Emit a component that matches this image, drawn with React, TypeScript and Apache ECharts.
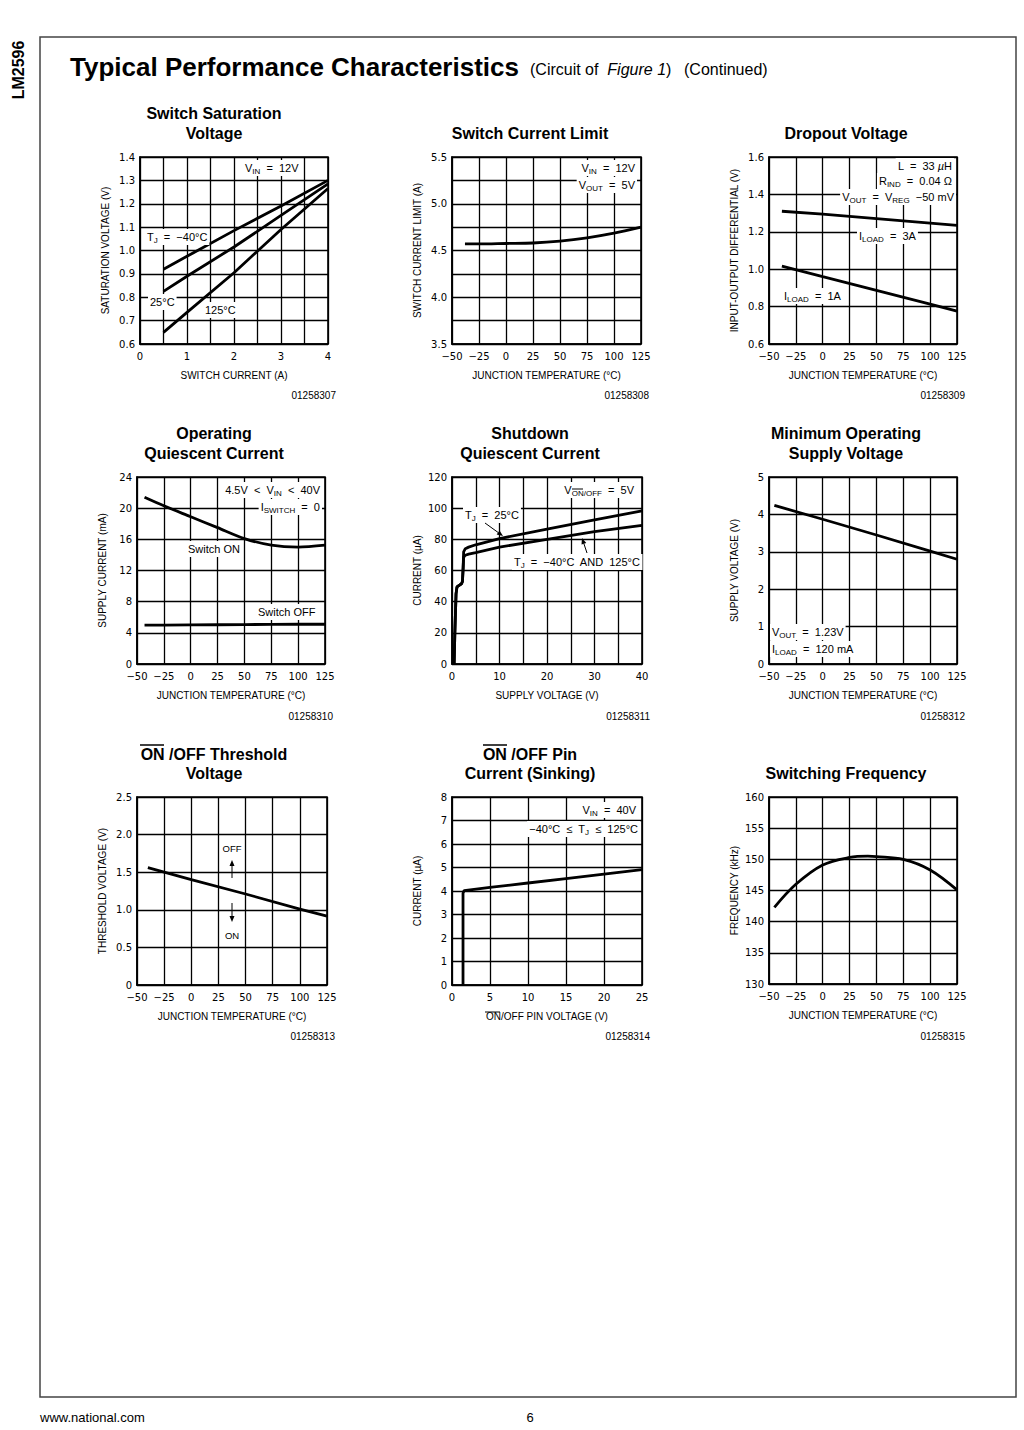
import React, { useEffect, useRef } from 'react';
import * as echarts from 'echarts';

const FP = "'Liberation Sans', Arial, Helvetica, sans-serif";
const FT = "'DejaVu Sans', 'Liberation Sans', sans-serif";

// ---------- DATA ----------
// 1 Switch Saturation Voltage
const satCurrentA = [0.5, 1, 2, 3, 4];
const satVoltM40 = [0.92, 0.975, 1.085, 1.19, 1.3];
const satVolt25 = [0.825, 0.89, 1.015, 1.15, 1.285];
const satVolt125 = [0.65, 0.735, 0.905, 1.09, 1.265];
// 2 Switch Current Limit
const limTempC = [-38, -25, 0, 25, 50, 75, 100, 125];
const limCurrentA = [4.57, 4.57, 4.575, 4.58, 4.6, 4.635, 4.685, 4.75];
// 3 Dropout Voltage
const dropTempC = [-38, 0, 50, 100, 125];
const drop3A = [1.31, 1.294, 1.27, 1.246, 1.234];
const drop1A = [1.017, 0.96, 0.887, 0.813, 0.776];
// 4 Operating Quiescent Current
const opTempC = [-43, -25, 0, 25, 50, 75, 100, 125];
const opSwitchOn = [21.4, 20.3, 18.9, 17.5, 16.1, 15.25, 15.0, 15.25];
const opSwitchOff = [5.0, 5.0, 5.02, 5.04, 5.06, 5.08, 5.1, 5.1];
// 5 Shutdown Quiescent Current
const sd25Volt = [0.45, 0.6, 0.85, 1.05, 1.5, 2.0, 2.2, 2.35, 2.45, 2.8, 3.5, 5, 10, 20, 30, 40];
const sd25Curr = [0, 20, 45, 49.5, 50.5, 51.5, 53, 62, 72, 74, 75, 76.5, 80.5, 86.5, 92.5, 98.3];
const sdExtVolt = [0.45, 0.6, 0.85, 1.05, 1.5, 2.0, 2.2, 2.35, 2.45, 2.8, 3.5, 5, 10, 20, 30, 40];
const sdExtCurr = [0, 20, 45, 49.5, 50.5, 51.5, 53, 62, 68.5, 69.8, 70.5, 71.5, 75, 80, 85, 89];
// 6 Minimum Operating Supply Voltage
const minTempC = [-45, 0, 50, 100, 125];
const minSupplyV = [4.24, 3.87, 3.45, 3.02, 2.8];
// 7 ON/OFF Threshold Voltage
const thrTempC = [-40, 0, 50, 100, 125];
const thrVolt = [1.56, 1.4, 1.21, 1.01, 0.915];
// 8 ON/OFF Pin Current
const pinVolt = [1.45, 1.45, 1.6, 5, 10, 15, 20, 25];
const pinCurrent = [0, 3.9, 4.02, 4.15, 4.34, 4.53, 4.72, 4.91];
// 9 Switching Frequency
const fsTempC = [-45, -25, 0, 25, 42, 50, 75, 100, 125];
const fsKHz = [142.3, 146.0, 149.1, 150.3, 150.5, 150.45, 150.0, 148.3, 145.1];

// axis ranges
const TEMP = { min: -50, max: 125, interval: 25 };
const xRanges = [
  { min: 0, max: 4, interval: 0.5 }, TEMP, TEMP, TEMP,
  { min: 0, max: 40, interval: 5 }, TEMP, TEMP,
  { min: 0, max: 25, interval: 5 }, TEMP,
];
const yRanges = [
  { min: 0.6, max: 1.4, interval: 0.1 },
  { min: 3.5, max: 5.5, interval: 0.25 },
  { min: 0.6, max: 1.6, interval: 0.2 },
  { min: 0, max: 24, interval: 4 },
  { min: 0, max: 120, interval: 20 },
  { min: 0, max: 5, interval: 1 },
  { min: 0, max: 2.5, interval: 0.5 },
  { min: 0, max: 8, interval: 1 },
  { min: 130, max: 160, interval: 5 },
];
const xNames = [
  'SWITCH CURRENT (A)', 'JUNCTION TEMPERATURE (°C)', 'JUNCTION TEMPERATURE (°C)',
  'JUNCTION TEMPERATURE (°C)', 'SUPPLY VOLTAGE (V)', 'JUNCTION TEMPERATURE (°C)',
  'JUNCTION TEMPERATURE (°C)', 'ON/OFF PIN VOLTAGE (V)', 'JUNCTION TEMPERATURE (°C)',
];
const yNames = [
  'SATURATION VOLTAGE (V)', 'SWITCH CURRENT LIMIT (A)', 'INPUT-OUTPUT DIFFERENTIAL (V)',
  'SUPPLY CURRENT (mA)', 'CURRENT (µA)', 'SUPPLY VOLTAGE (V)',
  'THRESHOLD VOLTAGE (V)', 'CURRENT (µA)', 'FREQUENCY (kHz)',
];
const titles = [
  ['Switch Saturation', 'Voltage'], ['Switch Current Limit'], ['Dropout Voltage'],
  ['Operating', 'Quiescent Current'], ['Shutdown', 'Quiescent Current'], ['Minimum Operating', 'Supply Voltage'],
  ['ON /OFF Threshold', 'Voltage'], ['ON /OFF Pin', 'Current (Sinking)'], ['Switching Frequency'],
];
const figIds = ['01258307', '01258308', '01258309', '01258310', '01258311', '01258312', '01258313', '01258314', '01258315'];

// layout
const GRIDS = [
  { left: 140, top: 157, width: 188, height: 187 },
  { left: 452, top: 157, width: 189, height: 187 },
  { left: 769, top: 157, width: 188, height: 187 },
  { left: 137, top: 477, width: 188, height: 187 },
  { left: 452, top: 477, width: 190, height: 187 },
  { left: 769, top: 477, width: 188, height: 187 },
  { left: 137, top: 797, width: 190, height: 188 },
  { left: 452, top: 797, width: 190, height: 188 },
  { left: 769, top: 797, width: 188, height: 187 },
];
const TITLE_CX = [214, 530, 846];
const ROW_TITLE_Y = [[113, 133], [433, 453], [754, 773]];
const ROW_ID_Y = [395, 716, 1036];

const near = (a: number, b: number) => Math.abs(a - b) < 1e-6;
const fmtSigned = (v: number) => (v < 0 ? '\u2212' + Math.abs(Math.round(v)) : String(Math.round(v)));
const xFormatters: ((v: number) => string)[] = [
  (v) => (near(v, Math.round(v)) ? String(Math.round(v)) : ''),
  fmtSigned, fmtSigned, fmtSigned,
  (v) => (near(v % 10, 0) ? String(Math.round(v)) : ''),
  fmtSigned, fmtSigned,
  (v) => String(Math.round(v)),
  fmtSigned,
];
const yFormatters: ((v: number) => string)[] = [
  (v) => v.toFixed(1),
  (v) => (near(v * 2, Math.round(v * 2)) ? v.toFixed(1) : ''),
  (v) => v.toFixed(1),
  (v) => String(Math.round(v)),
  (v) => String(Math.round(v)),
  (v) => String(Math.round(v)),
  (v) => (near(v, 0) ? '0' : v.toFixed(1)),
  (v) => String(Math.round(v)),
  (v) => String(Math.round(v)),
];

const zip = (xs: number[], ys: number[]) => xs.map((x, i) => [x, ys[i]]);

const seriesDefs: { g: number; x: number[]; y: number[]; smooth?: number }[] = [
  { g: 0, x: satCurrentA, y: satVoltM40 },
  { g: 0, x: satCurrentA, y: satVolt25 },
  { g: 0, x: satCurrentA, y: satVolt125 },
  { g: 1, x: limTempC, y: limCurrentA, smooth: 0.3 },
  { g: 2, x: dropTempC, y: drop3A },
  { g: 2, x: dropTempC, y: drop1A },
  { g: 3, x: opTempC, y: opSwitchOn, smooth: 0.3 },
  { g: 3, x: opTempC, y: opSwitchOff },
  { g: 4, x: sd25Volt, y: sd25Curr },
  { g: 4, x: sdExtVolt, y: sdExtCurr },
  { g: 5, x: minTempC, y: minSupplyV },
  { g: 6, x: thrTempC, y: thrVolt },
  { g: 7, x: pinVolt, y: pinCurrent },
  { g: 8, x: fsTempC, y: fsKHz, smooth: 0.35 },
];

// ---------- graphic helpers ----------
type TOpt = { align?: string; va?: string; size?: number; weight?: string; style?: string; family?: string; rich?: any; bg?: string; rotation?: number };
function txt(x: number, y: number, text: string, o: TOpt = {}) {
  const align = o.align || 'left';
  const va = o.va || 'middle';
  const style: any = {
    text,
    fill: '#000',
    fontSize: o.size || 10.5,
    fontFamily: o.family || FP,
    fontWeight: o.weight || 'normal',
    fontStyle: o.style || 'normal',
    align,
    verticalAlign: va,
    textAlign: align,
    textVerticalAlign: va,
  };
  if (o.rich) style.rich = o.rich;
  if (o.bg) {
    style.backgroundColor = o.bg;
    style.padding = [1, 2, 1, 2];
  }
  return { type: 'text', x, y, z: 100, rotation: o.rotation || 0, style };
}
const RICH = {
  n: { fontSize: 11, fontFamily: FP, lineHeight: 14, fill: '#000' },
  s: { fontSize: 8, fontFamily: FP, lineHeight: 8, verticalAlign: 'bottom', fill: '#000' },
  i: { fontSize: 11, fontFamily: FP, fontStyle: 'italic', lineHeight: 14, fill: '#000' },
};
const ann = (x: number, y: number, text: string, align = 'left') => txt(x, y, text, { align, rich: RICH, bg: '#fff' });
function seg(x1: number, y1: number, x2: number, y2: number, w = 1) {
  return { type: 'line', z: 101, shape: { x1, y1, x2, y2 }, style: { stroke: '#000', lineWidth: w } };
}
function arrow(x1: number, y1: number, x2: number, y2: number) {
  const a = Math.atan2(y2 - y1, x2 - x1);
  const L = 6, W = 2.5;
  const bx = x2 - L * Math.cos(a), by = y2 - L * Math.sin(a);
  const px = -Math.sin(a) * W, py = Math.cos(a) * W;
  return [
    seg(x1, y1, bx, by, 1),
    { type: 'polygon', z: 101, shape: { points: [[x2, y2], [bx + px, by + py], [bx - px, by - py]] }, style: { fill: '#000' } },
  ];
}

function buildOption() {
  const grid = GRIDS.map((g) => ({ ...g, show: true, borderColor: '#000', borderWidth: 1.6, backgroundColor: 'transparent', containLabel: false }));
  const axisCommon = (i: number) => ({
    type: 'value',
    gridIndex: i,
    axisLine: { show: true, onZero: false, lineStyle: { color: '#000', width: 1.6 } },
    axisTick: { show: false },
    splitLine: { show: true, lineStyle: { color: '#000', width: 1.3 } },
    nameLocation: 'middle',
    nameTextStyle: { color: '#000', fontSize: 10, fontFamily: FP },
  });
  const xAxis = GRIDS.map((_, i) => ({
    ...axisCommon(i),
    ...xRanges[i],
    name: xNames[i],
    nameGap: 26,
    axisLabel: { color: '#000', fontSize: 10, fontFamily: FT, margin: 7, formatter: xFormatters[i] },
  }));
  const yAxis = GRIDS.map((_, i) => ({
    ...axisCommon(i),
    ...yRanges[i],
    name: yNames[i],
    nameGap: 30,
    axisLabel: { color: '#000', fontSize: 10, fontFamily: FT, margin: 5, formatter: yFormatters[i] },
  }));
  const series = seriesDefs.map((s) => ({
    type: 'line',
    xAxisIndex: s.g,
    yAxisIndex: s.g,
    data: zip(s.x, s.y),
    showSymbol: false,
    symbol: 'none',
    smooth: s.smooth || false,
    silent: true,
    lineStyle: { color: '#000', width: 2.8 },
  }));

  const g: any[] = [];
  // page frame and header
  g.push({ type: 'rect', z: 90, shape: { x: 40, y: 37, width: 976, height: 1360 }, style: { fill: 'none', stroke: '#444', lineWidth: 1.5 } });
  g.push(txt(18, 70, 'LM2596', { size: 16, weight: 'bold', align: 'center', rotation: Math.PI / 2 }));
  g.push(txt(70, 67, 'Typical Performance Characteristics', { size: 26, weight: 'bold' }));
  g.push(txt(530, 69, '{a|(Circuit of  }{b|Figure 1}{a|)}', {
    size: 16,
    rich: { a: { fontSize: 16, fontFamily: FP, fill: '#000' }, b: { fontSize: 16, fontFamily: FP, fontStyle: 'italic', fill: '#000' } },
  }));
  g.push(txt(684, 69, '(Continued)', { size: 16 }));
  g.push(txt(40, 1417, 'www.national.com', { size: 13 }));
  g.push(txt(530, 1417, '6', { size: 13, align: 'center' }));

  // titles and ids
  titles.forEach((lines, i) => {
    const row = Math.floor(i / 3), col = i % 3;
    const ys = ROW_TITLE_Y[row];
    const start = lines.length === 2 ? 0 : 1;
    lines.forEach((l, k) => g.push(txt(TITLE_CX[col], ys[start + k], l, { size: 16, weight: 'bold', align: 'center' })));
    const gr = GRIDS[i];
    g.push(txt(gr.left + gr.width + 8, ROW_ID_Y[row], figIds[i], { size: 10, align: 'right' }));
  });
  // overlines on ON
  g.push(seg(140, 745, 164, 745, 1.5));
  g.push(seg(483, 745, 507, 745, 1.5));
  g.push(seg(485, 1012, 500, 1012, 1));

  // chart 1 annotations
  g.push(ann(243, 168, '{n|V}{s|IN}{n|  =  12V}'));
  g.push(ann(145, 237, '{n|T}{s|J}{n|  =  \u221240°C}'));
  g.push(ann(148, 302, '{n|25°C}'));
  g.push(ann(203, 310, '{n|125°C}'));
  // chart 2
  g.push(ann(637, 168, '{n|V}{s|IN}{n|  =  12V}', 'right'));
  g.push(ann(637, 185, '{n|V}{s|OUT}{n|  =  5V}', 'right'));
  // chart 3
  g.push(ann(954, 166, '{n|L  =  33 }{i|µ}{n|H}', 'right'));
  g.push(ann(954, 181, '{n|R}{s|IND}{n|  =  0.04 Ω}', 'right'));
  g.push(ann(956, 197, '{n|V}{s|OUT}{n|  =  V}{s|REG}{n|  \u221250 mV}', 'right'));
  g.push(ann(857, 236, '{n|I}{s|LOAD}{n|  =  3A}'));
  g.push(ann(782, 296, '{n|I}{s|LOAD}{n|  =  1A}'));
  // chart 4
  g.push(ann(322, 490, '{n|4.5V  <  V}{s|IN}{n|  <  40V}', 'right'));
  g.push(ann(322, 507, '{n|I}{s|SWITCH}{n|  =  0}', 'right'));
  g.push(ann(186, 549, '{n|Switch ON}'));
  g.push(ann(256, 612, '{n|Switch OFF}'));
  // chart 5
  g.push(ann(636, 490, '{n|V}{s|ON/OFF}{n|  =  5V}', 'right'));
  g.push(seg(572, 489, 583, 489, 1));
  g.push(ann(463, 515, '{n|T}{s|J}{n|  =  25°C}'));
  g.push(...arrow(485, 523, 503, 536));
  g.push(ann(512, 562, '{n|T}{s|J}{n|  =  \u221240°C  AND  125°C}'));
  g.push(...arrow(587, 553, 582, 538));
  // chart 6
  g.push(ann(770, 632, '{n|V}{s|OUT}{n|  =  1.23V}'));
  g.push(ann(770, 649, '{n|I}{s|LOAD}{n|  =  120 mA}'));
  // chart 7
  g.push(txt(232, 848, 'OFF', { size: 9.5, align: 'center' }));
  g.push(...arrow(232, 878, 232, 860));
  g.push(...arrow(232, 903, 232, 922));
  g.push(txt(232, 935, 'ON', { size: 9.5, align: 'center' }));
  // chart 8
  g.push(ann(638, 810, '{n|V}{s|IN}{n|  =  40V}', 'right'));
  g.push(ann(640, 829, '{n|\u221240°C  ≤  T}{s|J}{n|  ≤  125°C}', 'right'));

  return {
    animation: false,
    backgroundColor: '#fff',
    grid,
    xAxis,
    yAxis,
    series,
    graphic: { elements: g },
  };
}

export default function App() {
  const ref = useRef<HTMLDivElement>(null);
  useEffect(() => {
    if (!ref.current) return;
    const chart = echarts.init(ref.current, null, { renderer: 'svg' });
    chart.setOption(buildOption() as any);
    return () => chart.dispose();
  }, []);
  return (
    <div
      ref={ref}
      style={{ position: 'absolute', left: 0, top: 0, width: 1024, height: 1430, background: '#fff' }}
    />
  );
}
